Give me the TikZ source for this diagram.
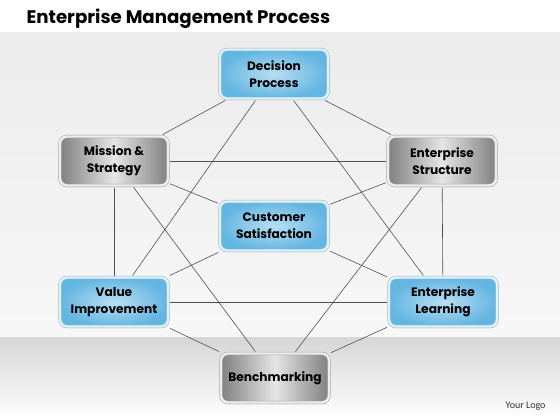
\documentclass[tikz,border=0pt]{standalone}
\usepackage{fontspec}
\setmainfont{Poppins}
\newfontfamily\logofont{Carlito}
\usetikzlibrary{shadows}
\definecolor{boxblue}{HTML}{64B6E2}
\definecolor{lineblue}{HTML}{8CB9CC}
\definecolor{glowblue}{HTML}{E2F2FA}
\definecolor{metal}{HTML}{808080}
\definecolor{linegrey}{HTML}{A0A0A0}
\definecolor{glowgrey}{HTML}{EEEEEE}
\definecolor{linkgrey}{HTML}{505050}
\definecolor{bgtop}{HTML}{ECECEC}
\definecolor{bandgrey}{HTML}{D6D6D6}
\definecolor{logotext}{HTML}{333333}

\begin{document}
\begin{tikzpicture}[x=1pt,y=-1pt,
   box/.style={rounded corners=7pt,minimum width=108pt,minimum height=49pt,
     align=center,font=\fontsize{12.2}{17}\selectfont\bfseries,
     line width=.5pt,double distance=2.4pt,outer sep=2pt,
     drop shadow={opacity=.3,shadow xshift=1pt,shadow yshift=-1.5pt}},
   bluebox/.style={box,draw=lineblue,double=glowblue,
     inner color=boxblue!45!white,outer color=boxblue},
   greybox/.style={box,draw=linegrey,double=glowgrey,
     left color=metal,right color=metal,middle color=metal!20!white},
   link/.style={draw=linkgrey,line width=.6pt}]
\useasboundingbox (0,0) rectangle (560,420);
\fill[white] (0,0) rectangle (560,33);
\shade[top color=bgtop,bottom color=white!97!black] (0,33) rectangle (560,337);
\shade[top color=bandgrey,bottom color=white] (0,337) rectangle (560,420);

\node[anchor=base west,font=\fontsize{18.2}{21}\selectfont\bfseries] (title) at (23,24) {Enterprise Management Process};
\node[anchor=base east,font=\logofont\fontsize{10}{12}\selectfont,text=logotext] (logo) at (549,408) {Your Logo};

\node[bluebox] (dp) at (274,74) {Decision\\Process};
\node[greybox] (ms) at (114,161) {Mission \&\\Strategy};
\node[greybox] (es) at (442,161) {Enterprise\\Structure};
\node[bluebox] (cs) at (274,226) {Customer\\Satisfaction};
\node[bluebox] (vi) at (114,302) {Value\\Improvement};
\node[bluebox] (el) at (443,302) {Enterprise\\Learning};
\node[greybox] (bm) at (275,378) {Benchmarking};

\foreach \a/\b in {dp/ms,dp/es,dp/vi,dp/el,ms/es,ms/vi,ms/bm,ms/cs,es/el,es/bm,es/cs,vi/el,vi/bm,vi/cs,el/bm,el/cs}
  \draw[link] (\a) -- (\b);
\end{tikzpicture}
\end{document}
